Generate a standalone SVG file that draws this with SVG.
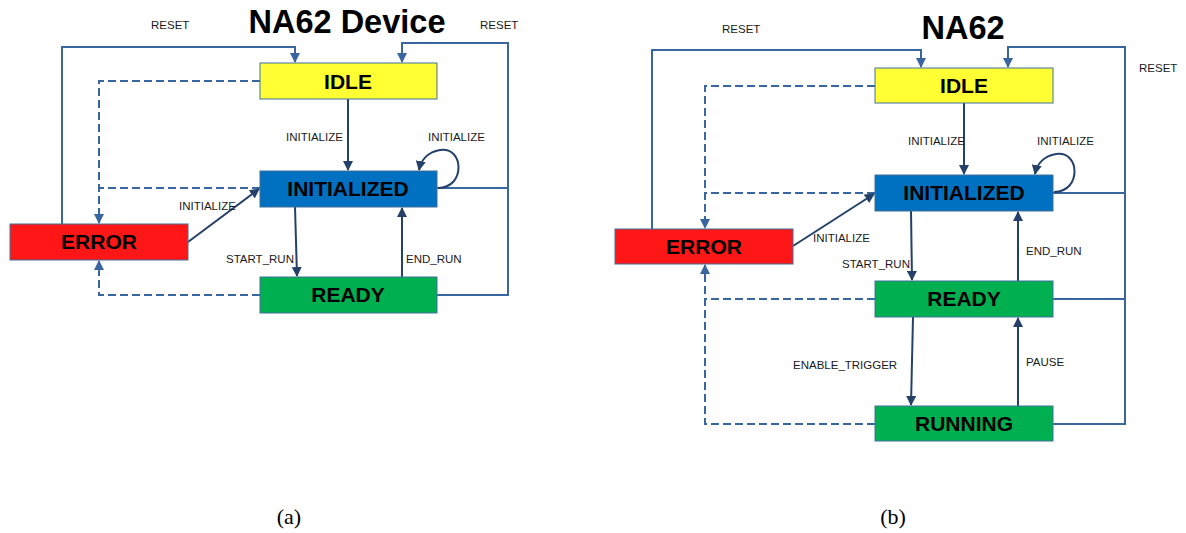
<svg xmlns="http://www.w3.org/2000/svg" width="1186" height="533" viewBox="0 0 1186 533">
<style>
.box{stroke:#41719C;stroke-width:1}
.nl{font-family:"Liberation Sans",Arial,sans-serif;font-weight:bold;font-size:21px;fill:#000;text-anchor:middle}
.el{font-family:"Liberation Sans",Arial,sans-serif;font-size:11.5px;fill:#1a1a1a}
.title{font-family:"Liberation Sans",Arial,sans-serif;font-weight:bold;font-size:32.5px;fill:#000;text-anchor:middle}
.cap{font-family:"Liberation Serif","Times New Roman",serif;font-size:22px;fill:#000;text-anchor:middle}
.rs{fill:none;stroke:#3A66A0;stroke-width:2}
.ds{fill:none;stroke:#3A66A0;stroke-width:2;stroke-dasharray:8 4}
.tr{fill:none;stroke:#25416A;stroke-width:2}
</style>
<defs>
<marker id="ah" markerWidth="10" markerHeight="10" refX="9" refY="5" orient="auto" markerUnits="userSpaceOnUse"><path d="M0,0 L10,5 L0,10 Z" fill="#25416A"/></marker>
<marker id="ahr" markerWidth="10" markerHeight="10" refX="9" refY="5" orient="auto" markerUnits="userSpaceOnUse"><path d="M0,0 L10,5 L0,10 Z" fill="#3A66A0"/></marker>
</defs>
<rect width="1186" height="533" fill="#fff"/>

<text class="title" x="347" y="33">NA62 Device</text>
<text class="title" x="963" y="39">NA62</text>

<g id="connectors">
<!-- panel a -->
<path class="rs" d="M62,224 V47 H295 V62" marker-end="url(#ahr)"/>
<path class="rs" d="M437,295 H508 V43 H402 V62" marker-end="url(#ahr)"/>
<path class="rs" d="M437,188 H508"/>
<path class="ds" d="M260,81 H99 V223" marker-end="url(#ahr)"/>
<path class="ds" d="M260,188 H99"/>
<path class="ds" d="M260,295 H99 V261" marker-end="url(#ahr)"/>
<path class="tr" d="M348,99 V170" marker-end="url(#ah)"/>
<path class="tr" d="M438,188 C466,188 464,146 440,150 C428,152 421,160 419,170" marker-end="url(#ah)"/>
<path class="tr" d="M188,242 L259,189" marker-end="url(#ah)"/>
<path class="tr" d="M295,207 L297,276" marker-end="url(#ah)"/>
<path class="tr" d="M402,277 V208" marker-end="url(#ah)"/>
<text class="el" x="151" y="29">RESET</text>
<text class="el" x="480" y="29">RESET</text>
<text class="el" x="286" y="141">INITIALIZE</text>
<text class="el" x="428" y="141">INITIALIZE</text>
<text class="el" x="179" y="210">INITIALIZE</text>
<text class="el" x="226" y="263">START_RUN</text>
<text class="el" x="406" y="263">END_RUN</text>

<!-- panel b -->
<path class="rs" d="M652,229 V50 H921 V67" marker-end="url(#ahr)"/>
<path class="rs" d="M1053,424 H1125 V47 H1008 V67" marker-end="url(#ahr)"/>
<path class="rs" d="M1053,193 H1125"/>
<path class="rs" d="M1053,299 H1125"/>
<path class="ds" d="M875,86 H705 V228" marker-end="url(#ahr)"/>
<path class="ds" d="M875,193 H705"/>
<path class="ds" d="M875,299 H705"/>
<path class="ds" d="M875,424 H705 V265" marker-end="url(#ahr)"/>
<path class="tr" d="M964,103 V174" marker-end="url(#ah)"/>
<path class="tr" d="M1054,192 C1082,192 1080,150 1056,154 C1044,156 1037,164 1035,174" marker-end="url(#ah)"/>
<path class="tr" d="M793,246 L874,194" marker-end="url(#ah)"/>
<path class="tr" d="M911,211 L912,280" marker-end="url(#ah)"/>
<path class="tr" d="M1018,281 V212" marker-end="url(#ah)"/>
<path class="tr" d="M913,317 L911,405" marker-end="url(#ah)"/>
<path class="tr" d="M1018,406 V318" marker-end="url(#ah)"/>
<text class="el" x="722" y="33">RESET</text>
<text class="el" x="1139" y="72">RESET</text>
<text class="el" x="908" y="145">INITIALIZE</text>
<text class="el" x="1037" y="145">INITIALIZE</text>
<text class="el" x="813" y="242">INITIALIZE</text>
<text class="el" x="842" y="268">START_RUN</text>
<text class="el" x="1026" y="255">END_RUN</text>
<text class="el" x="793" y="369">ENABLE_TRIGGER</text>
<text class="el" x="1026" y="366">PAUSE</text>
</g>

<g id="a-idle"><rect class="box" x="260" y="63" width="177" height="36" fill="#FFFF33"/><text class="nl" x="348" y="89">IDLE</text></g>
<g id="a-initialized"><rect class="box" x="260" y="171" width="177" height="36" fill="#0070C0"/><text class="nl" x="348" y="196">INITIALIZED</text></g>
<g id="a-error"><rect class="box" x="10" y="224" width="178" height="36" fill="#FF1616"/><text class="nl" x="99" y="249">ERROR</text></g>
<g id="a-ready"><rect class="box" x="260" y="277" width="177" height="36" fill="#00B050"/><text class="nl" x="348" y="302">READY</text></g>

<g id="b-idle"><rect class="box" x="875" y="68" width="178" height="35" fill="#FFFF33"/><text class="nl" x="964" y="93">IDLE</text></g>
<g id="b-initialized"><rect class="box" x="875" y="175" width="178" height="36" fill="#0070C0"/><text class="nl" x="964" y="200">INITIALIZED</text></g>
<g id="b-error"><rect class="box" x="615" y="229" width="178" height="35" fill="#FF1616"/><text class="nl" x="704" y="254">ERROR</text></g>
<g id="b-ready"><rect class="box" x="875" y="281" width="178" height="36" fill="#00B050"/><text class="nl" x="964" y="306">READY</text></g>
<g id="b-running"><rect class="box" x="875" y="406" width="178" height="35" fill="#00B050"/><text class="nl" x="964" y="431">RUNNING</text></g>

<text class="cap" x="289" y="524">(a)</text>
<text class="cap" x="893" y="524">(b)</text>
</svg>
